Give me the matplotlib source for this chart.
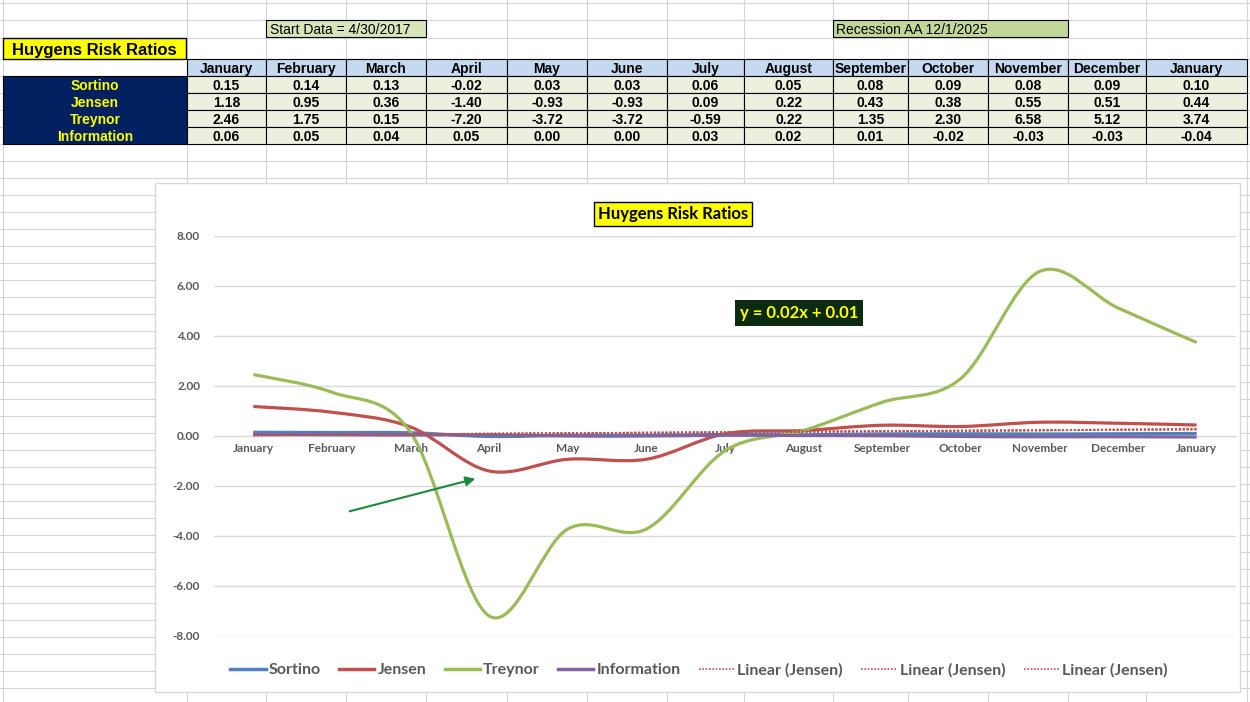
import matplotlib
matplotlib.use("Agg")
import matplotlib.pyplot as plt
from matplotlib.patches import Rectangle, PathPatch
from matplotlib.path import Path
from matplotlib.lines import Line2D

plt.rcParams['font.family'] = ['Liberation Sans', 'DejaVu Sans']
CHART_FONT = ['Lato', 'DejaVu Sans']

# data
months = ["January", "February", "March", "April", "May", "June", "July",
          "August", "September", "October", "November", "December", "January"]
sortino = [0.15, 0.14, 0.13, -0.02, 0.03, 0.03, 0.06, 0.05, 0.08, 0.09, 0.08, 0.09, 0.10]
jensen = [1.18, 0.95, 0.36, -1.40, -0.93, -0.93, 0.09, 0.22, 0.43, 0.38, 0.55, 0.51, 0.44]
treynor = [2.46, 1.75, 0.15, -7.20, -3.72, -3.72, -0.59, 0.22, 1.35, 2.30, 6.58, 5.12, 3.74]
information = [0.06, 0.05, 0.04, 0.05, 0.00, 0.00, 0.03, 0.02, 0.01, -0.02, -0.03, -0.03, -0.04]
row_names = ["Sortino", "Jensen", "Treynor", "Information"]
trend_slope = 0.02
trend_intercept = 0.01

series = [sortino, jensen, treynor, information]
colors = ['#4f81bd', '#c0504d', '#9bbb59', '#8064a2']


def smooth_path(xs, ys):
    # bezier path through the points, like the spreadsheet "smoothed line"
    verts = [(xs[0], ys[0])]
    codes = [Path.MOVETO]
    n = len(xs)
    for i in range(n - 1):
        a = i - 1 if i > 0 else i
        d = i + 2 if i + 2 < n else i + 1
        c1 = (xs[i] + (xs[i + 1] - xs[a]) / 6, ys[i] + (ys[i + 1] - ys[a]) / 6)
        c2 = (xs[i + 1] - (xs[d] - xs[i]) / 6, ys[i + 1] - (ys[d] - ys[i]) / 6)
        verts += [c1, c2, (xs[i + 1], ys[i + 1])]
        codes += [Path.CURVE4] * 3
    return Path(verts, codes)


fig = plt.figure(figsize=(12.5, 7.02), dpi=100)

# spreadsheet background, pixel coordinates
bg = fig.add_axes([0, 0, 1, 1], zorder=0)
bg.set_xlim(0, 1250)
bg.set_ylim(702, 0)
bg.axis('off')

col_edges = [3, 187, 266, 346, 426, 507, 587, 667, 744, 833, 908, 988, 1068, 1146, 1247]
row_edges = [3, 20, 38, 59, 76, 93, 110, 127, 144] + list(range(161, 702, 17))
for x in col_edges:
    bg.axvline(x, color='#d4d4d4', lw=0.8, zorder=1)
for y in row_edges:
    bg.axhline(y, color='#d4d4d4', lw=0.8, zorder=1)

bg.add_patch(Rectangle((266, 20), 160, 17, fc='#d8e4bc', ec='black', lw=0.8, zorder=2))
bg.text(270, 29, "Start Data = 4/30/2017", fontsize=10, va='center_baseline', ha='left', zorder=3)
bg.add_patch(Rectangle((833, 20), 235, 17, fc='#c4d79b', ec='black', lw=0.8, zorder=2))
bg.text(836, 29, "Recession AA 12/1/2025", fontsize=10, va='center_baseline', ha='left', zorder=3)

bg.add_patch(Rectangle((3, 38), 183, 21, fc='#ffff00', ec='black', lw=1, zorder=2))
bg.text(94, 48.5, "Huygens Risk Ratios", fontsize=12, fontweight='bold',
        ha='center', va='center_baseline', zorder=3)

# table
bg.add_patch(Rectangle((3, 76), 184, 68, fc='#002060', ec='black', lw=0.8, zorder=2))
for r, name in enumerate(row_names):
    bg.text(95, 84.5 + 17 * r, name, color='#ffff00', fontsize=10, fontweight='bold',
            ha='center', va='center_baseline', zorder=3)
for i, m in enumerate(months):
    x0 = col_edges[i + 1]
    w = col_edges[i + 2] - x0
    bg.add_patch(Rectangle((x0, 59), w, 17, fc='#c5d9f1', ec='black', lw=0.8, zorder=2))
    bg.text(x0 + w / 2, 67.5, m, fontsize=10, fontweight='bold',
            ha='center', va='center_baseline', zorder=3)
    for r, vals in enumerate(series):
        y0 = 76 + 17 * r
        bg.add_patch(Rectangle((x0, y0), w, 17, fc='#ebf1de', ec='black', lw=0.8, zorder=2))
        bg.text(x0 + w / 2, y0 + 8.5, "%.2f" % vals[i], fontsize=10, fontweight='bold',
                ha='center', va='center_baseline', zorder=3)

# chart area
bg.add_patch(Rectangle((155, 183), 1085, 509, fc='white', ec='#d9d9d9', lw=1, zorder=4))

ax = fig.add_axes([214 / 1250, 1 - 636 / 702, 1022 / 1250, 400 / 702], zorder=1)
ax.patch.set_alpha(0)
xs = list(range(len(months)))
for vals, c in zip(series, colors):
    ax.add_patch(PathPatch(smooth_path(xs, vals), fill=False, ec=c, lw=2.3, zorder=3))
trend = [trend_slope * (x + 1) + trend_intercept for x in xs]
for k in range(3):
    ax.plot(xs, trend, color='#c0504d', lw=1.4, ls=(0, (1, 1)), zorder=4)

ax.set_xlim(-0.5, 12.5)
ax.set_ylim(-8, 8)
ax.set_yticks(range(-8, 9, 2))
ax.set_yticklabels(["%.2f" % v for v in range(-8, 9, 2)])
ax.set_xticks(xs)
ax.set_xticklabels(months)
ax.grid(axis='y', color='#d9d9d9', lw=1)
ax.set_axisbelow(True)
for s in ['top', 'right', 'left']:
    ax.spines[s].set_visible(False)
ax.spines['bottom'].set_position(('data', 0))
ax.spines['bottom'].set_color('#d9d9d9')
ax.tick_params(length=0, colors='#595959', labelsize=8.5)
ax.tick_params(axis='x', pad=5)
ax.tick_params(axis='y', pad=10)
for t in ax.get_xticklabels() + ax.get_yticklabels():
    t.set_family(CHART_FONT)
    t.set_fontweight('bold')

handles = [Line2D([], [], color=c, lw=2.5) for c in colors]
handles += [Line2D([], [], color='#c0504d', lw=1.2, ls=(0, (1, 1))) for k in range(3)]
labels = row_names + ["Linear (Jensen)"] * 3
leg = ax.legend(handles, labels, ncol=7, loc='center', bbox_to_anchor=(699 / 1250, 1 - 670 / 702),
                bbox_transform=fig.transFigure, frameon=False,
                prop={'family': CHART_FONT, 'size': 11.5, 'weight': 'bold'},
                handlelength=2.2, handletextpad=0.2, columnspacing=1.15)
for t in leg.get_texts():
    t.set_color('#595959')

# overlay: title, equation label, arrow
ov = fig.add_axes([0, 0, 1, 1], zorder=3)
ov.set_xlim(0, 1250)
ov.set_ylim(702, 0)
ov.axis('off')
ov.text(673, 214, "Huygens Risk Ratios", fontsize=12, fontweight='bold', family=CHART_FONT,
        ha='center', va='center',
        bbox=dict(boxstyle='square,pad=0.25', fc='#ffff00', ec='black', lw=1))
ov.text(799, 313, "y = 0.02x + 0.01", fontsize=12, fontweight='bold', color='#ffff00',
        family=CHART_FONT, ha='center', va='center',
        bbox=dict(boxstyle='square,pad=0.3', fc='#0c2a10', ec='none'))
ov.annotate("", xy=(478, 478), xytext=(347, 512),
            arrowprops=dict(arrowstyle='-|>', color='#1a8a3a', lw=1.5, mutation_scale=14))

fig.savefig("out.png", dpi=100)
